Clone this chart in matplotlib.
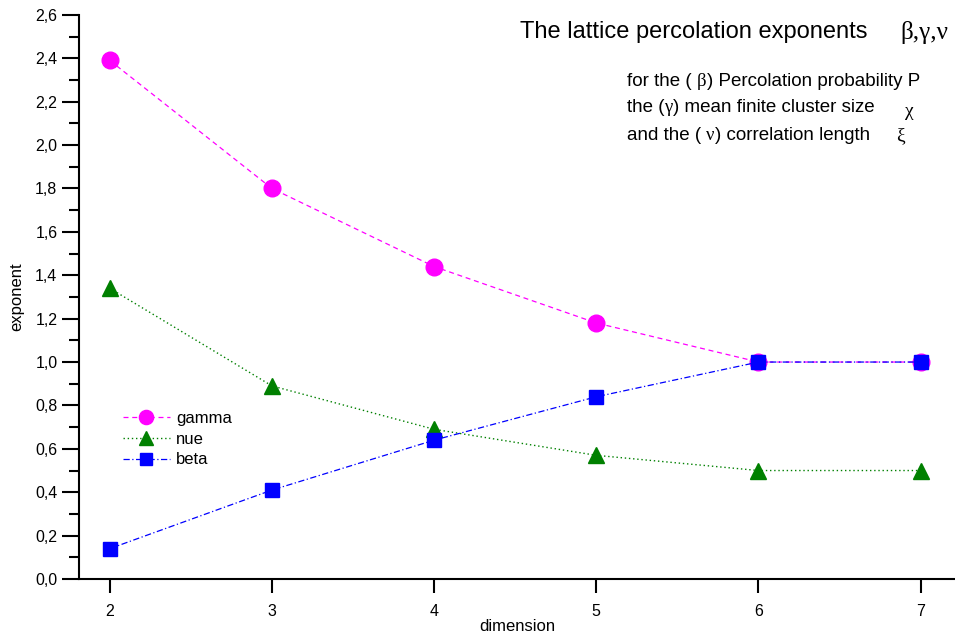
import matplotlib
matplotlib.use('Agg')
import matplotlib.pyplot as plt
from matplotlib.ticker import MultipleLocator, FuncFormatter

plt.rcParams['font.family'] = ['Liberation Sans', 'DejaVu Sans']

dimension = [2, 3, 4, 5, 6, 7]
gamma = [2.39, 1.80, 1.44, 1.18, 1.00, 1.00]
nue = [1.34, 0.89, 0.69, 0.57, 0.50, 0.50]
beta = [0.14, 0.41, 0.64, 0.84, 1.00, 1.00]

fig = plt.figure(figsize=(9.55, 6.36), dpi=100)
ax = fig.add_axes([0.0827, 0.0896, 0.917, 0.887])

ax.plot(dimension, gamma, color='#ff00ff', ls=(0, (4, 3)), lw=0.9,
        marker='o', ms=12, label='gamma')
ax.plot(dimension, nue, color='#008000', ls=(0, (1, 2)), lw=1.0,
        marker='^', ms=12, label='nue')
ax.plot(dimension, beta, color='#0000ff', ls=(0, (5, 2, 1, 2)), lw=0.9,
        marker='s', ms=10, label='beta')

ax.set_xlim(1.81, 7.21)
ax.set_ylim(0, 2.6)
ax.spines['top'].set_visible(False)
ax.spines['right'].set_visible(False)
ax.spines['left'].set_linewidth(1.5)
ax.spines['bottom'].set_linewidth(1.5)

ax.xaxis.set_major_locator(MultipleLocator(1))
ax.yaxis.set_major_locator(MultipleLocator(0.2))
ax.yaxis.set_minor_locator(MultipleLocator(0.1))
ax.yaxis.set_major_formatter(FuncFormatter(lambda v, p: f'{v:.1f}'.replace('.', ',')))
ax.tick_params(axis='y', which='major', direction='out', length=12, width=1.5, labelsize=11.5)
ax.tick_params(axis='y', which='minor', direction='out', length=7, width=1.5)
ax.tick_params(axis='x', which='major', direction='out', length=10, width=1.5, labelsize=11.5, pad=8)

ax.set_xlabel('dimension', fontsize=12, labelpad=0)
ax.set_ylabel('exponent', fontsize=12, labelpad=8)

ax.legend(loc='upper left', bbox_to_anchor=(0.033, 0.325), frameon=False, fontsize=12,
          handlelength=2.8, handletextpad=0.4, labelspacing=0.35, markerscale=0.85)

greek = ['Liberation Serif', 'DejaVu Serif']
fig.text(520 / 955, 1 - 32 / 636, 'The lattice percolation exponents', fontsize=17, va='center')
fig.text(900 / 955, 1 - 33 / 636, 'β,γ,ν', fontsize=18, va='center', family=greek)

lines = [('for the ( ', 'β', ') Percolation probability P', 82),
         ('the (', 'γ', ') mean finite cluster size', 108),
         ('and the ( ', 'ν', ') correlation length', 136)]
for a, g, b, y in lines:
    t = fig.text(627 / 955, 1 - y / 636, a, fontsize=13.5, va='center')
    fig.canvas.draw()
    bb = t.get_window_extent()
    t2 = fig.text(bb.x1 / 955, 1 - y / 636, g, fontsize=13.5, va='center', family=greek)
    fig.canvas.draw()
    bb2 = t2.get_window_extent()
    fig.text(bb2.x1 / 955, 1 - y / 636, b, fontsize=13.5, va='center')
fig.text(905 / 955, 1 - 112 / 636, 'χ', fontsize=14, va='center', family=greek)
fig.text(896 / 955, 1 - 136 / 636, 'ξ', fontsize=14, va='center', family=greek)

fig.savefig('out.png', dpi=100)
